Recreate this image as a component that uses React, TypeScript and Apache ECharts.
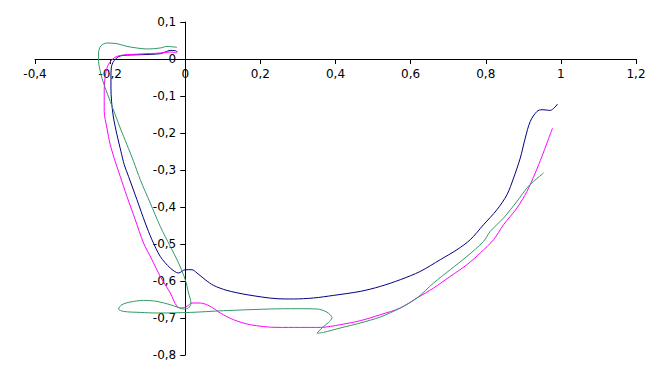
import React, { useEffect, useRef } from "react";
import * as echarts from "echarts";

const xTicks = { min: -0.4, max: 1.2, interval: 0.2 };
const yTicks = { min: -0.8, max: 0.1, interval: 0.1 };

const blueX = [-0.0205, -0.0266, -0.0399, -0.0532, -0.0666, -0.1198, -0.1651, -0.1776, -0.1909, -0.197, -0.1978, -0.1978, -0.1962, -0.1909, -0.1818, -0.1712, -0.1624, -0.151, -0.1286, -0.1065, -0.0887, -0.0666, -0.0399, -0.0178, 0, 0.0178, 0.0312, 0.0532, 0.0753, 0.111, 0.1643, 0.2441, 0.2883, 0.3416, 0.3948, 0.4659, 0.5192, 0.5724, 0.6257, 0.6789, 0.7234, 0.7588, 0.7942, 0.8299, 0.8565, 0.8741, 0.8919, 0.9052, 0.9185, 0.9364, 0.9497, 0.9718, 0.9912];
const blueY = [0.0189, 0.0224, 0.0232, 0.0189, 0.0143, 0.0116, 0.0097, 0.0062, -0.0065, -0.0243, -0.0514, -0.0784, -0.1146, -0.1595, -0.2046, -0.2497, -0.2857, -0.3173, -0.3803, -0.4432, -0.4884, -0.5335, -0.5649, -0.5784, -0.5695, -0.5695, -0.5784, -0.5965, -0.6119, -0.6254, -0.637, -0.6478, -0.6486, -0.6459, -0.6389, -0.6281, -0.6146, -0.5965, -0.5741, -0.5424, -0.5154, -0.4884, -0.4478, -0.4073, -0.3668, -0.3216, -0.2676, -0.2135, -0.1686, -0.1416, -0.137, -0.1389, -0.1216];

const magentaX = [-0.0221, -0.0399, -0.0666, -0.1198, -0.1643, -0.1818, -0.1952, -0.2069, -0.213, -0.2157, -0.2157, -0.2085, -0.1997, -0.1864, -0.1731, -0.1552, -0.1331, -0.111, -0.0887, -0.0666, -0.0399, -0.0221, -0.0088, 0.0045, 0.0178, 0.0399, 0.0666, 0.0932, 0.1286, 0.1731, 0.2441, 0.3062, 0.3594, 0.4127, 0.4659, 0.5192, 0.5724, 0.6169, 0.6611, 0.7055, 0.75, 0.7854, 0.8208, 0.8474, 0.8831, 0.9097, 0.9318, 0.9497, 0.963, 0.9779];
const magentaY = [0.0162, 0.0189, 0.0162, 0.0135, 0.0108, 0.007, -0.0019, -0.02, -0.047, -0.083, -0.1416, -0.1865, -0.2316, -0.2768, -0.3173, -0.3714, -0.4343, -0.4973, -0.5424, -0.5876, -0.6324, -0.6686, -0.673, -0.6686, -0.6595, -0.6595, -0.6686, -0.6865, -0.7046, -0.7181, -0.7254, -0.7254, -0.7254, -0.7181, -0.7073, -0.6911, -0.673, -0.6459, -0.6189, -0.5876, -0.5559, -0.5243, -0.4884, -0.4478, -0.4027, -0.3578, -0.3081, -0.2632, -0.227, -0.1865];

const greenX = [-0.0221, -0.0487, -0.0666, -0.102, -0.1286, -0.1552, -0.1818, -0.2085, -0.2244, -0.2308, -0.2308, -0.2282, -0.2218, -0.213, -0.1997, -0.1864, -0.1731, -0.1552, -0.1376, -0.1198, -0.0932, -0.0666, -0.0399, -0.0178, 0, 0.0088, 0.0152, 0.0088, -0.0045, -0.0221, -0.0399, -0.0753, -0.111, -0.1464, -0.1685, -0.1776, -0.1643, -0.1198, -0.0753, 0.0133, 0.102, 0.2263, 0.2974, 0.3506, 0.3773, 0.3906, 0.3807, 0.3647, 0.3506, 0.3683, 0.4127, 0.4659, 0.5192, 0.5724, 0.6169, 0.6611, 0.7055, 0.75, 0.7942, 0.812, 0.8474, 0.8831, 0.9097, 0.9273, 0.954];
const greenY = [0.0314, 0.0341, 0.0297, 0.027, 0.0297, 0.0341, 0.0414, 0.0432, 0.0359, 0.0162, -0.0065, -0.0243, -0.0514, -0.0784, -0.1146, -0.1505, -0.1865, -0.2316, -0.2768, -0.3262, -0.3892, -0.4524, -0.5065, -0.5514, -0.5965, -0.6324, -0.6595, -0.673, -0.6757, -0.6703, -0.6641, -0.6551, -0.6524, -0.6568, -0.6641, -0.6757, -0.6822, -0.6849, -0.6865, -0.6849, -0.6803, -0.6757, -0.6749, -0.6757, -0.6843, -0.6992, -0.7127, -0.7262, -0.7411, -0.7389, -0.727, -0.7135, -0.6973, -0.673, -0.6459, -0.6054, -0.5695, -0.5335, -0.493, -0.4659, -0.4297, -0.3849, -0.3486, -0.3308, -0.3081];

const zip = (xs: number[], ys: number[]) => xs.map((x, i) => [x, ys[i]]);
const fmt = (v: number) => String(Number(v.toFixed(1))).replace(".", ",");

const W = 658;
const H = 376;
const GRID = { left: 35, right: 22, top: 22, bottom: 21 };

export default function App() {
  const ref = useRef<HTMLDivElement>(null);
  useEffect(() => {
    if (!ref.current) return;
    const chart = echarts.init(ref.current, undefined, { renderer: "svg" });
    const gw = W - GRID.left - GRID.right;
    const gh = H - GRID.top - GRID.bottom;
    // move each axis onto the other axis's zero
    const xOffset = -gh * (0 - yTicks.min) / (yTicks.max - yTicks.min);
    const yOffset = -gw * (0 - xTicks.min) / (xTicks.max - xTicks.min);
    const axisCommon = {
      type: "value" as const,
      axisLine: { show: true, onZero: false, lineStyle: { color: "#000", width: 1 } },
      axisTick: { show: true, inside: false, length: 5, lineStyle: { color: "#000" } },
      axisLabel: { color: "#000", fontFamily: "DejaVu Sans", fontSize: 12, margin: 9, formatter: fmt },
      splitLine: { show: false },
    };
    const lineSeries = (name: string, data: number[][], color: string) => ({
      name,
      type: "line" as const,
      data,
      showSymbol: false,
      symbol: "none",
      smooth: 0.3,
      lineStyle: { color, width: 1 },
      itemStyle: { color },
    });
    chart.setOption({
      animation: false,
      backgroundColor: "#fff",
      grid: { ...GRID, containLabel: false },
      xAxis: { ...axisCommon, position: "bottom", offset: xOffset, min: xTicks.min, max: xTicks.max, interval: xTicks.interval },
      yAxis: { ...axisCommon, position: "left", offset: yOffset, min: yTicks.min, max: yTicks.max, interval: yTicks.interval },
      series: [
        lineSeries("blue", zip(blueX, blueY), "#000080"),
        lineSeries("magenta", zip(magentaX, magentaY), "#FF00FF"),
        lineSeries("green", zip(greenX, greenY), "#339966"),
      ],
    });
    return () => chart.dispose();
  }, []);
  return (
    <div
      style={{
        position: "fixed",
        left: 0,
        top: 0,
        width: W,
        height: H,
        boxSizing: "border-box",
        border: "1px solid #000",
        background: "#fff",
      }}
    >
      <div ref={ref} style={{ position: "absolute", left: -1, top: -1, width: W, height: H }} />
    </div>
  );
}
